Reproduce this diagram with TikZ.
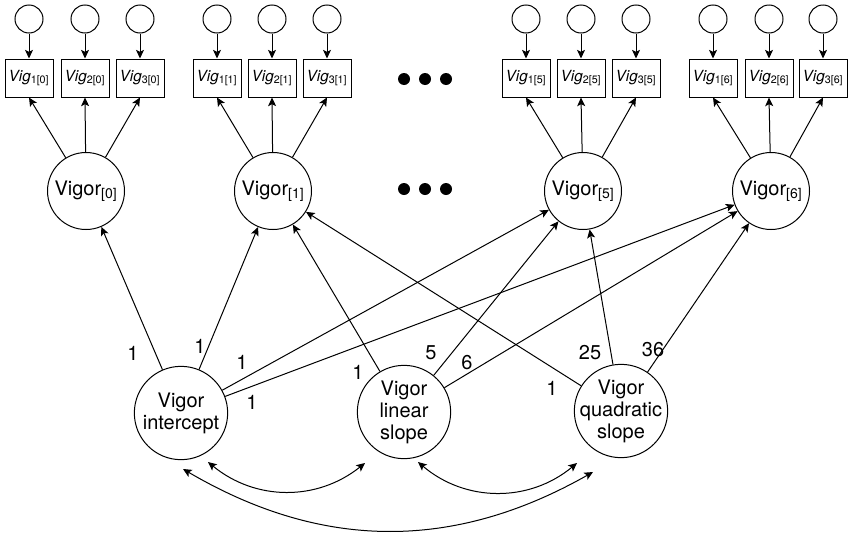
\documentclass[tikz,border=0pt]{standalone}
\usepackage{fontspec}
\setmainfont{TeX Gyre Heros}
\usetikzlibrary{arrows.meta, positioning}

\begin{document}
\begin{tikzpicture}[
    x=0.75pt, y=-0.75pt,
    err/.style={circle, draw, line width=0.75pt, minimum size=21pt, inner sep=0pt},
    ind/.style={rectangle, draw, line width=0.75pt, minimum width=36pt,
                minimum height=28.5pt, inner sep=0pt, font=\fontsize{11.5}{13}\selectfont},
    lat/.style={circle, draw, line width=0.75pt, minimum size=57.75pt,
                inner sep=0pt, font=\fontsize{15}{17}\selectfont},
    factor/.style={circle, draw, line width=0.75pt, minimum size=70pt, inner sep=-4pt,
                 align=center, font=\fontsize{15}{16.5}\selectfont},
    dot/.style={circle, fill, minimum size=9pt, inner sep=0pt},
    num/.style={font=\fontsize{15}{17}\selectfont, inner sep=0pt},
    arr/.style={-{Stealth[length=6.5pt, width=6pt, inset=1.5pt]}, line width=0.75pt},
    cov/.style={{Stealth[length=6.5pt, width=6pt, inset=1.5pt]}-{Stealth[length=6.5pt, width=6pt, inset=1.5pt]}, line width=0.75pt}
]

\useasboundingbox (0,0) rectangle (849,532);

%% occasion 0
\node[err] (e01) at (29, 19) {};
\node[err] (e02) at (85, 19) {};
\node[err] (e03) at (140,19) {};
\node[ind] (b01) at (29, 78) {\textit{Vig}\textsubscript{1[0]}};
\node[ind] (b02) at (85, 78) {\textit{Vig}\textsubscript{2[0]}};
\node[ind] (b03) at (140,78) {\textit{Vig}\textsubscript{3[0]}};
\node[lat] (V0)  at (86, 191) {Vigor\textsubscript{[0]}};

%% occasion 1
\node[err] (e11) at (217,19) {};
\node[err] (e12) at (272,19) {};
\node[err] (e13) at (327,19) {};
\node[ind] (b11) at (217,78) {\textit{Vig}\textsubscript{1[1]}};
\node[ind] (b12) at (272,78) {\textit{Vig}\textsubscript{2[1]}};
\node[ind] (b13) at (327,78) {\textit{Vig}\textsubscript{3[1]}};
\node[lat] (V1)  at (273,191) {Vigor\textsubscript{[1]}};

%% occasion 5
\node[err] (e51) at (526,19) {};
\node[err] (e52) at (581,19) {};
\node[err] (e53) at (636,19) {};
\node[ind] (b51) at (526,78) {\textit{Vig}\textsubscript{1[5]}};
\node[ind] (b52) at (581,78) {\textit{Vig}\textsubscript{2[5]}};
\node[ind] (b53) at (636,78) {\textit{Vig}\textsubscript{3[5]}};
\node[lat] (V5)  at (583,191) {Vigor\textsubscript{[5]}};

%% occasion 6
\node[err] (e61) at (713,19) {};
\node[err] (e62) at (769,19) {};
\node[err] (e63) at (823,19) {};
\node[ind] (b61) at (713,78) {\textit{Vig}\textsubscript{1[6]}};
\node[ind] (b62) at (769,78) {\textit{Vig}\textsubscript{2[6]}};
\node[ind] (b63) at (823,78) {\textit{Vig}\textsubscript{3[6]}};
\node[lat] (V6)  at (771,191) {Vigor\textsubscript{[6]}};

%% ellipsis
\node[dot] (d1) at (404,79) {};
\node[dot] (d2) at (425,79) {};
\node[dot] (d3) at (446,79) {};
\node[dot] (d4) at (404,189) {};
\node[dot] (d5) at (425,189) {};
\node[dot] (d6) at (446,189) {};

%% growth factors
\node[factor] (INT) at (181,413) {Vigor\\intercept};
\node[factor] (LIN) at (404,412) {Vigor\\linear\\slope};
\node[factor] (QUA) at (621,411) {Vigor\\quadratic\\slope};

%% residuals
\draw[arr] (e01) -- (b01);  \draw[arr] (e02) -- (b02);  \draw[arr] (e03) -- (b03);
\draw[arr] (e11) -- (b11);  \draw[arr] (e12) -- (b12);  \draw[arr] (e13) -- (b13);
\draw[arr] (e51) -- (b51);  \draw[arr] (e52) -- (b52);  \draw[arr] (e53) -- (b53);
\draw[arr] (e61) -- (b61);  \draw[arr] (e62) -- (b62);  \draw[arr] (e63) -- (b63);

%% loadings
\draw[arr] (V0) -- (b01.south);  \draw[arr] (V0) -- (b02.south);  \draw[arr] (V0) -- (b03.south);
\draw[arr] (V1) -- (b11.south);  \draw[arr] (V1) -- (b12.south);  \draw[arr] (V1) -- (b13.south);
\draw[arr] (V5) -- (b51.south);  \draw[arr] (V5) -- (b52.south);  \draw[arr] (V5) -- (b53.south);
\draw[arr] (V6) -- (b61.south);  \draw[arr] (V6) -- (b62.south);  \draw[arr] (V6) -- (b63.south);

%% growth paths
\draw[arr] (INT) -- (V0);
\draw[arr] (INT) -- (V1);
\draw[arr] (INT) -- (V5);
\draw[arr] (INT) -- (V6);
\draw[arr] (LIN) -- (V1);
\draw[arr] (LIN) -- (V5);
\draw[arr] (LIN) -- (V6);
\draw[arr] (QUA) -- (V1);
\draw[arr] (QUA) -- (V5);
\draw[arr] (QUA) -- (V6);

\node[num] (w1)  at (133,353) {1};
\node[num] (w2)  at (200,346) {1};
\node[num] (w3)  at (242,362) {1};
\node[num] (w4)  at (252,402) {1};
\node[num] (w5)  at (358,372) {1};
\node[num] (w6)  at (431,353) {5};
\node[num] (w7)  at (467,363) {6};
\node[num] (w8)  at (552,388) {1};
\node[num] (w9)  at (590,353) {25};
\node[num] (w10) at (653,350) {36};

%% covariances
\coordinate (c1a) at (208,462);
\coordinate (c1b) at (365,463);
\coordinate (c2a) at (418,462);
\coordinate (c2b) at (577,463);
\coordinate (c3a) at (183,469);
\coordinate (c3b) at (593,472);
\draw[cov] (c1a) to[bend right=39] (c1b);
\draw[cov] (c2a) to[bend right=40] (c2b);
\draw[cov] (c3a) to[bend right=30] (c3b);

\end{tikzpicture}
\end{document}
